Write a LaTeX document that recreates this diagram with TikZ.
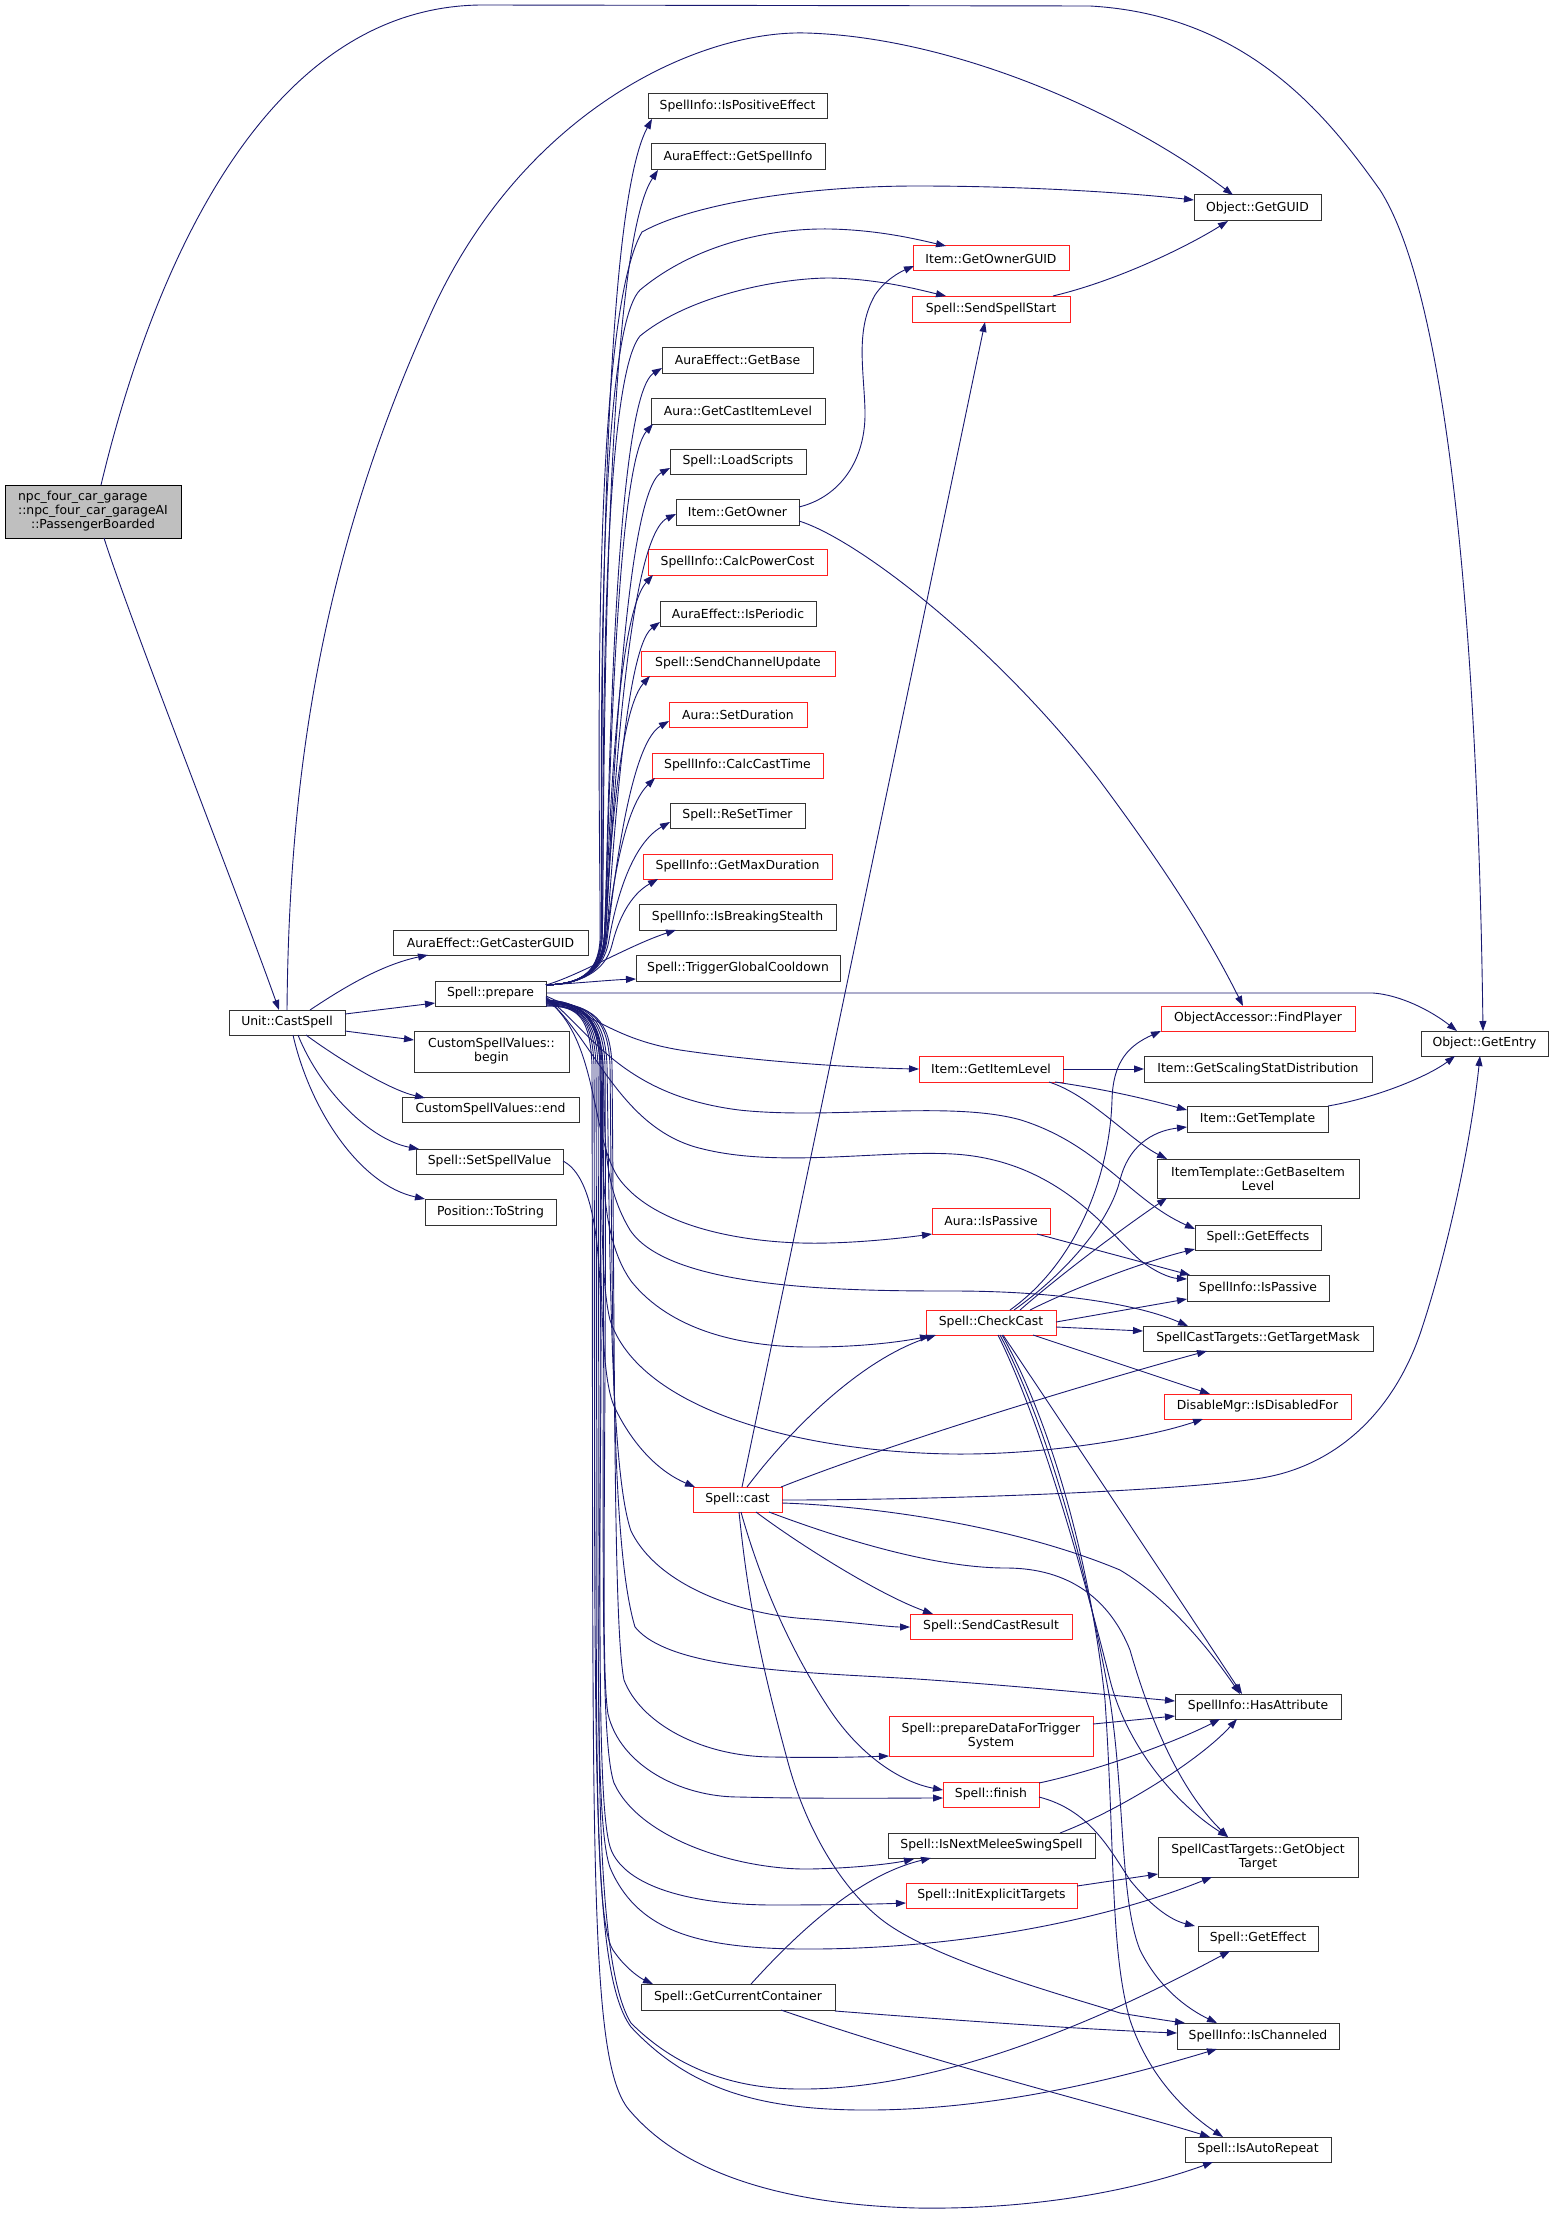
\documentclass[tikz,border=0pt]{standalone}
\usepackage{fontspec}
\usepackage{calc}
\setmainfont{DejaVu Sans}
\usetikzlibrary{arrows.meta}
\definecolor{edgec}{HTML}{191970}
\definecolor{boxc}{HTML}{333333}
\definecolor{redc}{HTML}{FF2020}
\definecolor{mainfill}{HTML}{BFBFBF}
\newcommand{\nd}[7]{\node[#2, minimum width={#5-#3}, minimum height={#6-#4}, anchor=north west] (#1) at (#3,#4) {#7};}
\tikzset{
  nb/.style={draw=boxc, line width=1pt, fill=white, inner sep=0pt, outer sep=0pt, align=center, font=\fontsize{12.4}{14}\selectfont},
  rb/.style={nb, draw=redc},
  mb/.style={nb, fill=mainfill, draw=black},
  edg/.style={draw=edgec, line width=0.9pt, -{Triangle[length=10pt,width=7pt]}},
}
\begin{document}
\begin{tikzpicture}[x=1pt,y=-1pt]
\fill[white] (0,0) rectangle (1553,2218);
\useasboundingbox (0,0) rectangle (1553,2218);
% nodes
\nd{main}{mb}{5}{485}{181}{538}{\makebox[\widthof{::npc\_four\_car\_garageAI}][l]{npc\_four\_car\_garage}\\::npc\_four\_car\_garageAI\\::PassengerBoarded}
\nd{castspell}{nb}{229}{1010}{345}{1035}{Unit::CastSpell}
\nd{casterguid}{nb}{393}{930}{588}{955}{AuraEffect::GetCasterGUID}
\nd{prepare}{nb}{435}{981}{546}{1006}{Spell::prepare}
\nd{csvbegin}{nb}{414}{1031}{569}{1072}{CustomSpellValues::\\begin}
\nd{csvend}{nb}{402}{1097}{579}{1122}{CustomSpellValues::end}
\nd{setspellvalue}{nb}{416}{1149}{563}{1174}{Spell::SetSpellValue}
\nd{tostring}{nb}{425}{1199}{556}{1225}{Position::ToString}
\nd{ispositive}{nb}{648}{94}{827}{119}{SpellInfo::IsPositiveEffect}
\nd{getspellinfo}{nb}{651}{144}{825}{170}{AuraEffect::GetSpellInfo}
\nd{getownerguid}{rb}{913}{246}{1069}{271}{Item::GetOwnerGUID}
\nd{sendspellstart}{rb}{912}{296}{1070}{322}{Spell::SendSpellStart}
\nd{getbase}{nb}{662}{347}{813}{373}{AuraEffect::GetBase}
\nd{getcastitemlevel}{nb}{651}{398}{825}{424}{Aura::GetCastItemLevel}
\nd{loadscripts}{nb}{670}{449}{806}{474}{Spell::LoadScripts}
\nd{getowner}{nb}{676}{499}{799}{525}{Item::GetOwner}
\nd{calcpowercost}{rb}{648}{549}{827}{575}{SpellInfo::CalcPowerCost}
\nd{isperiodic}{nb}{660}{601}{816}{626}{AuraEffect::IsPeriodic}
\nd{sendchannelupdate}{rb}{641}{651}{835}{676}{Spell::SendChannelUpdate}
\nd{setduration}{rb}{669}{702}{807}{727}{Aura::SetDuration}
\nd{calccasttime}{rb}{652}{753}{823}{778}{SpellInfo::CalcCastTime}
\nd{resettimer}{nb}{670}{803}{805}{828}{Spell::ReSetTimer}
\nd{getmaxduration}{rb}{643}{854}{832}{879}{SpellInfo::GetMaxDuration}
\nd{isbreakingstealth}{nb}{639}{904}{836}{930}{SpellInfo::IsBreakingStealth}
\nd{triggergcd}{nb}{636}{955}{840}{981}{Spell::TriggerGlobalCooldown}
\nd{getguid}{nb}{1194}{195}{1321}{221}{Object::GetGUID}
\nd{findplayer}{rb}{1161}{1006}{1355}{1031}{ObjectAccessor::FindPlayer}
\nd{getitemlevel}{rb}{919}{1056}{1063}{1082}{Item::GetItemLevel}
\nd{getscaling}{nb}{1144}{1056}{1372}{1082}{Item::GetScalingStatDistribution}
\nd{getentry}{nb}{1421}{1031}{1548}{1056}{Object::GetEntry}
\nd{gettemplate}{nb}{1187}{1106}{1328}{1132}{Item::GetTemplate}
\nd{getbaseitemlevel}{nb}{1157}{1159}{1359}{1198}{ItemTemplate::GetBaseItem\\Level}
\nd{geteffects}{nb}{1195}{1225}{1321}{1250}{Spell::GetEffects}
\nd{aurapassive}{rb}{932}{1208}{1050}{1234}{Aura::IsPassive}
\nd{infopassive}{nb}{1187}{1275}{1329}{1301}{SpellInfo::IsPassive}
\nd{checkcast}{rb}{926}{1310}{1056}{1335}{Spell::CheckCast}
\nd{targetmask}{nb}{1143}{1326}{1373}{1351}{SpellCastTargets::GetTargetMask}
\nd{isdisabled}{rb}{1164}{1394}{1351}{1419}{DisableMgr::IsDisabledFor}
\nd{cast}{rb}{693}{1487}{782}{1512}{Spell::cast}
\nd{sendcastresult}{rb}{910}{1614}{1072}{1639}{Spell::SendCastResult}
\nd{hasattribute}{nb}{1175}{1694}{1341}{1719}{SpellInfo::HasAttribute}
\nd{prepdata}{rb}{889}{1716}{1093}{1756}{Spell::prepareDataForTrigger\\System}
\nd{finish}{rb}{943}{1782}{1039}{1807}{Spell::finish}
\nd{isnextmelee}{nb}{888}{1833}{1095}{1858}{Spell::IsNextMeleeSwingSpell}
\nd{initexplicit}{rb}{906}{1883}{1077}{1908}{Spell::InitExplicitTargets}
\nd{objecttarget}{nb}{1158}{1837}{1358}{1877}{SpellCastTargets::GetObject\\Target}
\nd{geteffect}{nb}{1198}{1926}{1318}{1951}{Spell::GetEffect}
\nd{getcurcontainer}{nb}{641}{1984}{835}{2010}{Spell::GetCurrentContainer}
\nd{ischanneled}{nb}{1177}{2023}{1339}{2049}{SpellInfo::IsChanneled}
\nd{isautorepeat}{nb}{1185}{2137}{1331}{2162}{Spell::IsAutoRepeat}

% main
\draw[edg] ([shift={(99,0)}]main.south west) .. controls (130,620) and (240,900) .. ([shift={(50,0)}]castspell.north west);
\draw[edg] ([shift={(96,0)}]main.north west) .. controls (150,280) and (260,8) .. (480,5) -- (1090,6) .. controls (1250,15) and (1330,120) .. (1380,190) .. controls (1450,300) and (1478,650) .. ([shift={(62,0)}]getentry.north west);
% castspell
\draw[edg] ([shift={(58,0)}]castspell.north west) .. controls (289,780) and (320,560) .. (428,320) .. controls (520,110) and (700,30) .. (806,33) .. controls (950,37) and (1120,110) .. ([shift={(39,0)}]getguid.north west);
\draw[edg] ([shift={(81,0)}]castspell.north west) .. controls (340,990) and (380,965) .. ([shift={(35,25)}]casterguid.north west);
\draw[edg] ([shift={(116,4)}]castspell.north west) -- ([shift={(0,22)}]prepare.north west);
\draw[edg] ([shift={(116,21)}]castspell.north west) -- ([shift={(0,9)}]csvbegin.north west);
\draw[edg] ([shift={(77,25)}]castspell.north west) .. controls (340,1060) and (390,1090) .. ([shift={(23,1)}]csvend.north west);
\draw[edg] ([shift={(69,25)}]castspell.north west) .. controls (320,1090) and (370,1140) .. ([shift={(3,0)}]setspellvalue.north west);
\draw[edg] ([shift={(64,25)}]castspell.north west) .. controls (310,1110) and (360,1185) .. ([shift={(0,0)}]tostring.north west);
% prepare -> upper column
\draw[edg] ([shift={(0,4)}]prepare.north east) .. controls (578,984) and (598,975) .. (601,940) .. controls (604,900) and (592,230) .. ([shift={(4,25)}]ispositive.north west);
\draw[edg] ([shift={(0,4)}]prepare.north east) .. controls (578,984) and (599,975) .. (602,940) .. controls (605,900) and (598,260) .. ([shift={(7,26)}]getspellinfo.north west);
\draw[edg] ([shift={(0,4)}]prepare.north east) .. controls (578,984) and (600,975) .. (604,940) .. controls (608,900) and (610,400) .. ([shift={(0,21)}]getbase.north west);
\draw[edg] ([shift={(0,4)}]prepare.north east) .. controls (578,984) and (600,975) .. (604,940) .. controls (608,900) and (612,470) .. ([shift={(2,26)}]getcastitemlevel.north west);
\draw[edg] ([shift={(0,4)}]prepare.north east) .. controls (578,984) and (601,975) .. (605,940) .. controls (609,900) and (620,495) .. ([shift={(0,19)}]loadscripts.north west);
\draw[edg] ([shift={(0,4)}]prepare.north east) .. controls (578,984) and (601,975) .. (605,940) .. controls (609,900) and (622,540) .. ([shift={(0,15)}]getowner.north west);
\draw[edg] ([shift={(0,4)}]prepare.north east) .. controls (578,984) and (600,975) .. (604,940) .. controls (608,900) and (612,620) .. ([shift={(5,26)}]calcpowercost.north west);
\draw[edg] ([shift={(0,4)}]prepare.north east) .. controls (578,984) and (601,975) .. (606,940) .. controls (611,900) and (622,650) .. ([shift={(0,21)}]isperiodic.north west);
\draw[edg] ([shift={(0,4)}]prepare.north east) .. controls (578,984) and (600,975) .. (604,940) .. controls (608,900) and (615,715) .. ([shift={(9,25)}]sendchannelupdate.north west);
\draw[edg] ([shift={(0,4)}]prepare.north east) .. controls (578,984) and (602,975) .. (607,940) .. controls (612,900) and (628,745) .. ([shift={(0,19)}]setduration.north west);
\draw[edg] ([shift={(0,4)}]prepare.north east) .. controls (578,984) and (601,975) .. (606,940) .. controls (611,900) and (622,810) .. ([shift={(3,25)}]calccasttime.north west);
\draw[edg] ([shift={(0,4)}]prepare.north east) .. controls (578,984) and (603,975) .. (609,940) .. controls (615,905) and (630,845) .. ([shift={(0,19)}]resettimer.north west);
\draw[edg] ([shift={(0,4)}]prepare.north east) .. controls (580,984) and (605,972) .. (612,945) .. controls (618,920) and (630,895) .. ([shift={(15,25)}]getmaxduration.north west);
\draw[edg] ([shift={(0,4)}]prepare.north east) .. controls (580,975) and (630,945) .. ([shift={(37,26)}]isbreakingstealth.north west);
\draw[edg] ([shift={(0,4)}]prepare.north east) .. controls (580,983) and (610,980) .. ([shift={(0,24)}]triggergcd.north west);
\draw[edg] ([shift={(0,4)}]prepare.north east) .. controls (578,984) and (598,975) .. (600,940) .. controls (602,900) and (585,330) .. (642,232) .. controls (690,205) and (800,186) .. (917,186) .. controls (1020,186) and (1120,192) .. ([shift={(0,5)}]getguid.north west);
\draw[edg] ([shift={(0,4)}]prepare.north east) .. controls (578,984) and (598,975) .. (601,940) .. controls (604,900) and (590,340) .. (640,290) .. controls (700,240) and (780,228) .. (830,229) .. controls (880,230) and (920,240) .. ([shift={(33,0)}]getownerguid.north west);
\draw[edg] ([shift={(0,4)}]prepare.north east) .. controls (578,984) and (599,975) .. (602,940) .. controls (605,900) and (595,390) .. (640,336) .. controls (690,295) and (780,278) .. (830,278) .. controls (880,279) and (920,290) .. ([shift={(34,0)}]sendspellstart.north west);
\draw[edg] ([shift={(0,12)}]prepare.north east) -- (1373,993) .. controls (1400,995) and (1430,1010) .. ([shift={(36,0)}]getentry.north west);
% prepare -> lower
\draw[edg] ([shift={(0,15)}]prepare.north east) .. controls (600,1020) and (620,1040) .. (680,1050) .. controls (760,1062) and (860,1068) .. ([shift={(0,13)}]getitemlevel.north west);
\draw[edg] ([shift={(0,16)}]prepare.north east) .. controls (590,1030) and (620,1095) .. (739,1110) .. controls (830,1120) and (950,1100) .. (1021,1120) .. controls (1100,1145) and (1130,1200) .. ([shift={(0,4)}]geteffects.north west);
\draw[edg] ([shift={(0,17)}]prepare.north east) .. controls (595,1040) and (620,1130) .. (703,1149) .. controls (780,1168) and (880,1150) .. (953,1154) .. controls (1060,1160) and (1110,1235) .. (1140,1260) .. controls (1155,1272) and (1170,1278) .. ([shift={(0,4)}]infopassive.north west);
\draw[edg] ([shift={(0,18)}]prepare.north east) .. controls (600,1040) and (590,1140) .. (620,1180) .. controls (660,1232) and (760,1245) .. (828,1243) .. controls (870,1242) and (910,1237) .. ([shift={(0,26)}]aurapassive.north west);
\draw[edg] ([shift={(0,19)}]prepare.north east) .. controls (585,1002) and (600,1020) .. (603,1065) .. controls (606,1130) and (600,1180) .. (630,1230) .. controls (670,1290) and (850,1291) .. (953,1291) .. controls (1060,1291) and (1140,1305) .. ([shift={(45,0)}]targetmask.north west);
\draw[edg] ([shift={(0,19)}]prepare.north east) .. controls (585,1002) and (600,1020) .. (602,1065) .. controls (604,1140) and (595,1230) .. (631,1281) .. controls (670,1330) and (740,1347) .. (810,1347) .. controls (870,1347) and (910,1340) .. ([shift={(4,26)}]checkcast.north west);
\draw[edg] ([shift={(0,20)}]prepare.north east) .. controls (585,1003) and (599,1020) .. (601,1065) .. controls (603,1150) and (598,1270) .. (610,1320) .. controls (640,1410) and (800,1452) .. (953,1454) .. controls (1050,1455) and (1150,1437) .. ([shift={(39,25)}]isdisabled.north west);
\draw[edg] ([shift={(0,20)}]prepare.north east) .. controls (585,1003) and (598,1020) .. (600,1065) .. controls (602,1200) and (596,1365) .. (614,1406) .. controls (630,1440) and (655,1470) .. ([shift={(2,0)}]cast.north west);
\draw[edg] ([shift={(0,21)}]prepare.north east) .. controls (590,1003) and (605,1020) .. (607,1065) .. controls (610,1250) and (610,1470) .. (631,1531) .. controls (660,1590) and (750,1616) .. (810,1619) .. controls (850,1622) and (890,1627) .. ([shift={(0,13)}]sendcastresult.north west);
\draw[edg] ([shift={(0,21)}]prepare.north east) .. controls (592,1003) and (608,1020) .. (610,1065) .. controls (613,1350) and (612,1550) .. (635,1627) .. controls (670,1670) and (800,1672) .. (917,1679) .. controls (1020,1686) and (1120,1696) .. ([shift={(0,7)}]hasattribute.north west);
\draw[edg] ([shift={(0,22)}]prepare.north east) .. controls (594,1004) and (610,1020) .. (612,1065) .. controls (615,1400) and (614,1630) .. (624,1680) .. controls (640,1722) and (700,1757) .. (774,1757) .. controls (820,1758) and (860,1757) .. ([shift={(0,40)}]prepdata.north west);
\draw[edg] ([shift={(0,22)}]prepare.north east) .. controls (588,1004) and (603,1020) .. (605,1065) .. controls (607,1450) and (600,1665) .. (608,1714) .. controls (620,1765) and (680,1797) .. (739,1797) .. controls (820,1799) and (900,1798) .. ([shift={(0,16)}]finish.north west);
\draw[edg] ([shift={(0,23)}]prepare.north east) .. controls (586,1004) and (601,1020) .. (603,1065) .. controls (605,1500) and (598,1735) .. (614,1783) .. controls (640,1840) and (740,1870) .. (810,1869) .. controls (860,1868) and (895,1863) .. ([shift={(26,26)}]isnextmelee.north west);
\draw[edg] ([shift={(0,23)}]prepare.north east) .. controls (584,1004) and (598,1020) .. (600,1065) .. controls (602,1550) and (594,1815) .. (612,1852) .. controls (630,1890) and (700,1905) .. (774,1905) .. controls (830,1905) and (880,1904) .. ([shift={(0,20)}]initexplicit.north west);
\draw[edg] ([shift={(0,24)}]prepare.north east) .. controls (583,1005) and (596,1020) .. (598,1065) .. controls (600,1600) and (592,1835) .. (612,1872) .. controls (640,1932) and (700,1948) .. (800,1949) .. controls (950,1950) and (1100,1922) .. ([shift={(54,40)}]objecttarget.north west);
\draw[edg] ([shift={(0,24)}]prepare.north east) .. controls (582,1005) and (594,1020) .. (596,1065) .. controls (598,1650) and (590,1915) .. (613,1950) .. controls (625,1968) and (640,1978) .. ([shift={(12,0)}]getcurcontainer.north west);
\draw[edg] ([shift={(0,25)}]prepare.north east) .. controls (581,1005) and (592,1020) .. (594,1065) .. controls (596,1750) and (588,1968) .. (631,2027) .. controls (690,2090) and (760,2109) .. (860,2110) .. controls (1000,2111) and (1130,2075) .. ([shift={(40,26)}]ischanneled.north west);
\draw[edg] ([shift={(0,25)}]prepare.north east) .. controls (580,1005) and (590,1020) .. (592,1065) .. controls (594,1850) and (586,2065) .. (631,2112) .. controls (690,2180) and (800,2205) .. (917,2208) .. controls (1050,2210) and (1150,2185) .. ([shift={(28,25)}]isautorepeat.north west);
% setspellvalue
\draw[edg] ([shift={(0,12)}]setspellvalue.north east) .. controls (590,1175) and (600,1230) .. (601,1320) .. controls (602,1600) and (585,1950) .. (631,2023) .. controls (680,2072) and (740,2089) .. (800,2089) .. controls (950,2090) and (1120,2010) .. ([shift={(32,25)}]geteffect.north west);
% getowner
\draw[edg] ([shift={(123,8)}]getowner.north west) .. controls (840,497) and (866,460) .. (865,411) .. controls (864,370) and (855,330) .. (875,295) .. controls (885,280) and (900,272) .. ([shift={(1,20)}]getownerguid.north west);
\draw[edg] ([shift={(123,22)}]getowner.north west) .. controls (860,540) and (1000,650) .. (1100,781) .. controls (1170,875) and (1210,940) .. ([shift={(82,0)}]findplayer.north west);
\draw[edg] ([shift={(141,0)}]sendspellstart.north west) .. controls (1120,280) and (1190,245) .. ([shift={(34,26)}]getguid.north west);
% getitemlevel
\draw[edg] ([shift={(144,13)}]getitemlevel.north west) -- ([shift={(0,13)}]getscaling.north west);
\draw[edg] ([shift={(136,26)}]getitemlevel.north west) .. controls (1110,1090) and (1150,1100) .. ([shift={(0,4)}]gettemplate.north west);
\draw[edg] ([shift={(130,26)}]getitemlevel.north west) .. controls (1090,1095) and (1130,1140) .. ([shift={(10,0)}]getbaseitemlevel.north west);
\draw[edg] ([shift={(141,0)}]gettemplate.north west) .. controls (1380,1097) and (1430,1075) .. ([shift={(34,25)}]getentry.north west);
% cast
\draw[edg] ([shift={(49,0)}]cast.north west) -- ([shift={(73,26)}]sendspellstart.north west);
\draw[edg] ([shift={(54,0)}]cast.north west) .. controls (790,1430) and (860,1360) .. ([shift={(10,25)}]checkcast.north west);
\draw[edg] ([shift={(88,0)}]cast.north west) .. controls (900,1440) and (1100,1380) .. ([shift={(64,25)}]targetmask.north west);
\draw[edg] ([shift={(89,13)}]cast.north west) .. controls (950,1500) and (1200,1490) .. (1267,1477) .. controls (1330,1465) and (1390,1420) .. (1420,1334) .. controls (1445,1260) and (1470,1150) .. ([shift={(59,25)}]getentry.north west);
\draw[edg] ([shift={(89,16)}]cast.north west) .. controls (850,1505) and (1000,1520) .. (1120,1570) .. controls (1170,1600) and (1210,1650) .. ([shift={(65,0)}]hasattribute.north west);
\draw[edg] ([shift={(63,25)}]cast.north west) .. controls (800,1545) and (880,1595) .. ([shift={(23,0)}]sendcastresult.north west);
\draw[edg] ([shift={(76,25)}]cast.north west) .. controls (830,1535) and (930,1568) .. (1006,1568) .. controls (1070,1568) and (1110,1600) .. (1130,1650) .. controls (1150,1720) and (1180,1790) .. ([shift={(70,0)}]objecttarget.north west);
\draw[edg] ([shift={(48,25)}]cast.north west) .. controls (760,1580) and (790,1650) .. (830,1710) .. controls (860,1755) and (900,1782) .. ([shift={(0,8)}]finish.north west);
\draw[edg] ([shift={(46,25)}]cast.north west) .. controls (748,1600) and (760,1660) .. (789,1766) .. controls (810,1840) and (850,1900) .. (892,1927) .. controls (950,1965) and (1080,2000) .. (1120,2013) .. controls (1150,2018) and (1170,2021) .. ([shift={(8,0)}]ischanneled.north west);
% checkcast
\draw[edg] ([shift={(84,0)}]checkcast.north west) .. controls (1080,1260) and (1110,1170) .. (1112,1100) .. controls (1113,1060) and (1130,1045) .. ([shift={(0,25)}]findplayer.north west);
\draw[edg] ([shift={(88,0)}]checkcast.north west) .. controls (1070,1270) and (1110,1220) .. (1120,1180) .. controls (1130,1140) and (1160,1130) .. ([shift={(0,21)}]gettemplate.north west);
\draw[edg] ([shift={(94,0)}]checkcast.north west) .. controls (1060,1275) and (1120,1230) .. ([shift={(10,39)}]getbaseitemlevel.north west);
\draw[edg] ([shift={(104,0)}]checkcast.north west) .. controls (1080,1285) and (1150,1260) .. ([shift={(0,24)}]geteffects.north west);
\draw[edg] ([shift={(130,12)}]checkcast.north west) -- ([shift={(0,24)}]infopassive.north west);
\draw[edg] ([shift={(130,17)}]checkcast.north west) -- ([shift={(0,5)}]targetmask.north west);
\draw[edg] ([shift={(107,25)}]checkcast.north west) -- ([shift={(46,0)}]isdisabled.north west);
\draw[edg] ([shift={(77,25)}]checkcast.north west) .. controls (1060,1420) and (1180,1600) .. ([shift={(67,0)}]hasattribute.north west);
\draw[edg] ([shift={(72,25)}]checkcast.north west) .. controls (1040,1420) and (1080,1560) .. (1110,1680) .. controls (1125,1740) and (1170,1800) .. ([shift={(70,0)}]objecttarget.north west);
\draw[edg] ([shift={(74,25)}]checkcast.north west) .. controls (1045,1420) and (1085,1560) .. (1110,1700) .. controls (1125,1800) and (1120,1900) .. (1140,1950) .. controls (1160,1990) and (1190,2010) .. ([shift={(40,0)}]ischanneled.north west);
\draw[edg] ([shift={(76,25)}]checkcast.north west) .. controls (1050,1420) and (1090,1560) .. (1105,1700) .. controls (1115,1850) and (1110,1950) .. (1130,2020) .. controls (1150,2080) and (1190,2115) .. ([shift={(38,0)}]isautorepeat.north west);
% others
\draw[edg] ([shift={(105,26)}]aurapassive.north west) -- ([shift={(3,0)}]infopassive.north west);
\draw[edg] ([shift={(96,1)}]finish.north west) .. controls (1100,1770) and (1180,1740) .. ([shift={(45,25)}]hasattribute.north west);
\draw[edg] ([shift={(96,15)}]finish.north west) .. controls (1090,1810) and (1110,1850) .. (1130,1880) .. controls (1150,1905) and (1170,1920) .. ([shift={(-3,0)}]geteffect.north west);
\draw[edg] ([shift={(204,8)}]prepdata.north west) -- ([shift={(0,22)}]hasattribute.north west);
\draw[edg] ([shift={(172,0)}]isnextmelee.north west) .. controls (1120,1810) and (1200,1760) .. ([shift={(62,25)}]hasattribute.north west);
\draw[edg] ([shift={(171,3)}]initexplicit.north west) -- ([shift={(0,37)}]objecttarget.north west);
\draw[edg] ([shift={(110,0)}]getcurcontainer.north west) .. controls (800,1930) and (860,1875) .. ([shift={(43,25)}]isnextmelee.north west);
\draw[edg] ([shift={(194,27)}]getcurcontainer.north west) .. controls (990,2023) and (1100,2030) .. ([shift={(0,10)}]ischanneled.north west);
\draw[edg] ([shift={(140,26)}]getcurcontainer.north west) .. controls (950,2068) and (1120,2109) .. ([shift={(25,0)}]isautorepeat.north west);
\end{tikzpicture}
\end{document}
